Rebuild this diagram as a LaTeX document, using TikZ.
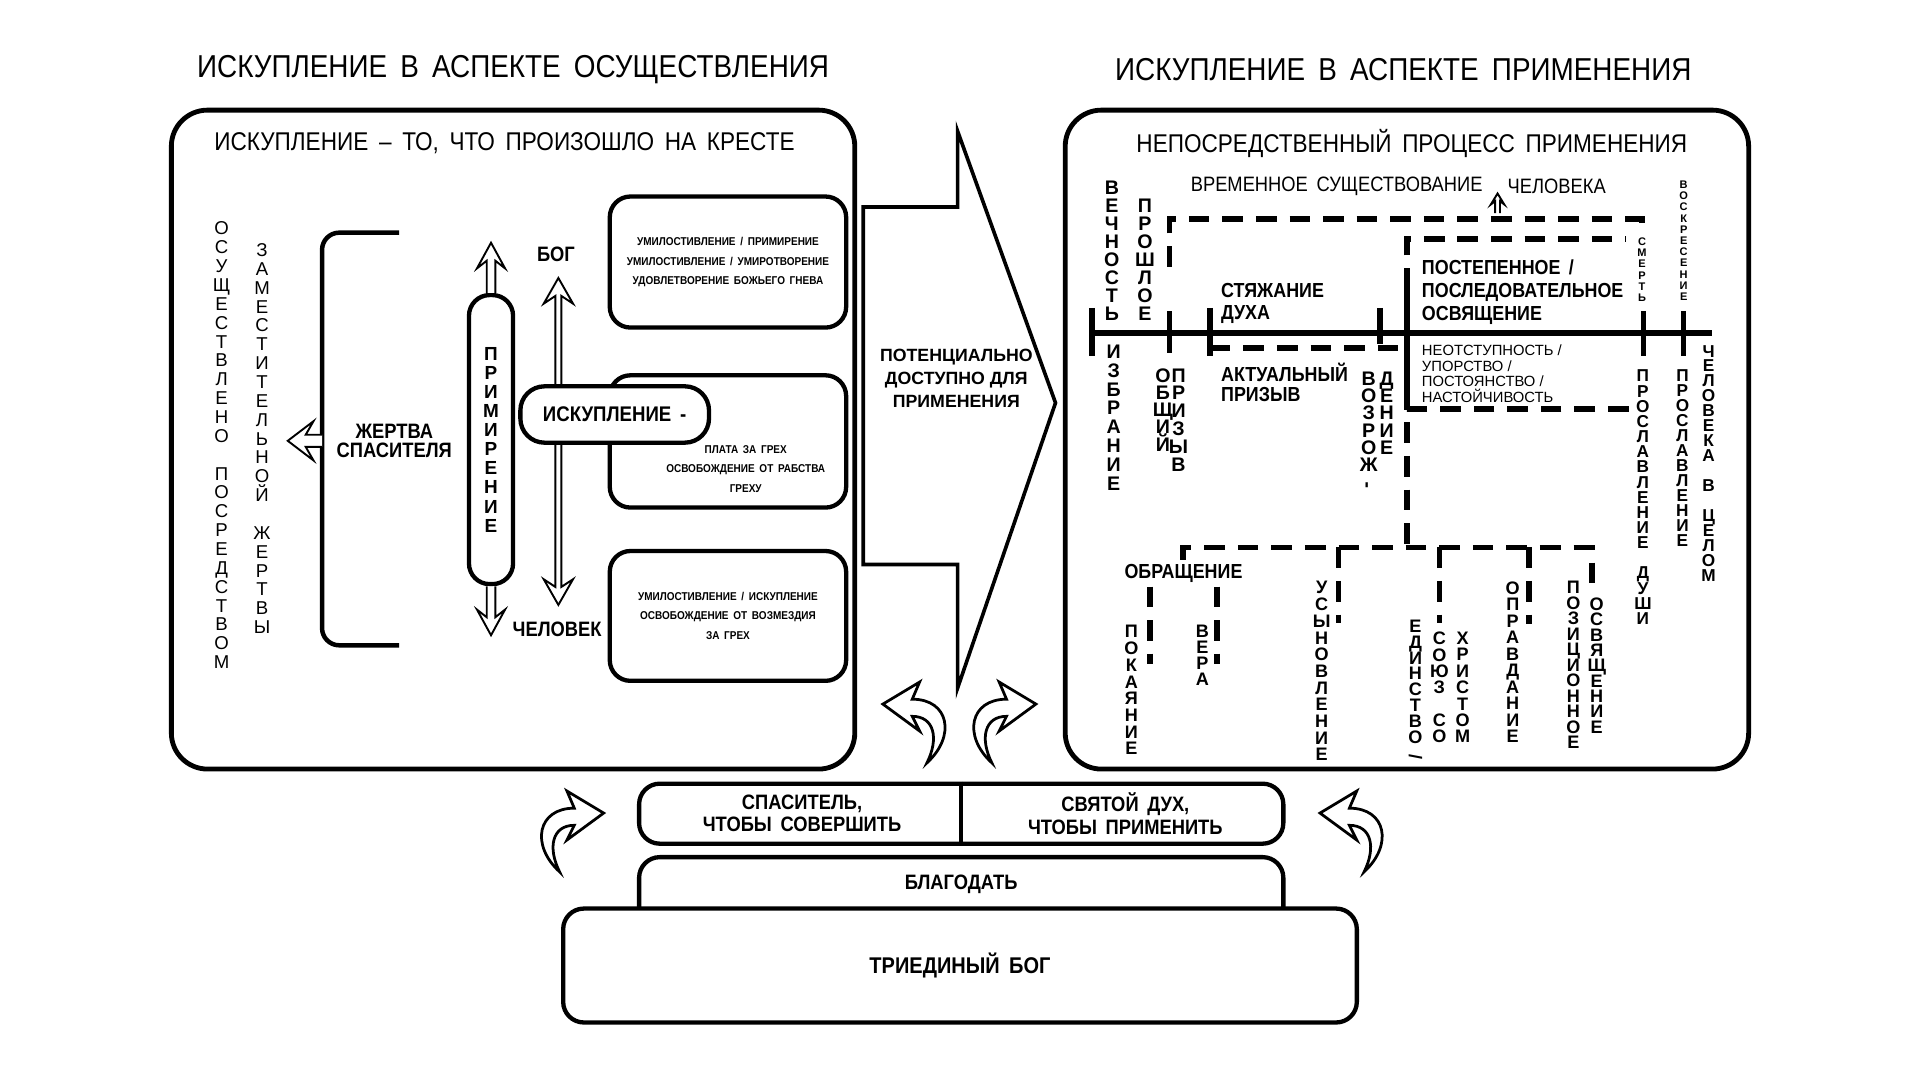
\documentclass[tikz,border=0pt]{standalone}
\usepackage{fontspec}
\setmainfont{Liberation Sans}
\newfontfamily\narrowfont[FakeStretch=0.88,WordSpace=1.7]{Liberation Sans}
\usetikzlibrary{positioning, arrows.meta}
\lineskiplimit=-100pt

% letters set one under the other
\ExplSyntaxOn
\NewDocumentCommand\vstack{m}{
  \seq_clear:N \l_tmpa_seq
  \tl_map_inline:nn {#1} { \seq_put_right:Nn \l_tmpa_seq {##1} }
  \seq_use:Nn \l_tmpa_seq {\\}
}
\ExplSyntaxOff

\tikzset{
  pics/uparr/.style n args={4}{code={
    \draw[line width=1.1pt, fill=white, line join=miter]
      (-#2,0) -- (-#2,{-#1+0.7*#4}) -- (-#3,{-#1+#4}) -- (0,-#1)
      -- (#3,{-#1+#4}) -- (#2,{-#1+0.7*#4}) -- (#2,0);
  }},
  pics/dblarr/.style n args={4}{code={
    \draw[line width=1.1pt, fill=white, line join=miter]
      (0,0) -- (-#3,-#4) -- (-#2,{-0.7*#4}) -- (-#2,{-#1+0.7*#4}) -- (-#3,{-#1+#4}) -- (0,-#1)
      -- (#3,{-#1+#4}) -- (#2,{-#1+0.7*#4}) -- (#2,{-0.7*#4}) -- (#3,-#4) -- cycle;
  }},
  pics/curvarr/.style={code={
    \draw[line width=1.6pt, fill=white, line join=miter]
      (0,0) .. controls (-24,-22) and (-18,-52) .. (12,-52) -- (6,-66) -- (36,-48)
      -- (6,-26) -- (12,-38) .. controls (-6,-38) and (-10,-20) .. cycle;
  }},
}

\begin{document}
\begin{tikzpicture}[x=0.025cm, y=-0.025cm,
    panel/.style={draw, line width=2.8pt, rounded corners=21pt, inner sep=0pt},
    sbox/.style={draw, line width=2.5pt, rounded corners=12pt, fill=white, minimum width=4.825cm, inner sep=0pt, align=center, font=\narrowfont\bfseries\fontsize{6.6}{11.4}\selectfont},
    title/.style={font=\narrowfont\fontsize{18.4}{20}\selectfont},
    subtitle/.style={font=\narrowfont\fontsize{14.9}{16}\selectfont},
    lbl/.style={font=\narrowfont\bfseries\fontsize{11.8}{#1}\selectfont, align=left, inner sep=0pt},
    rlbl/.style={font=\narrowfont\fontsize{12.1}{#1}\selectfont, align=left, inner sep=0pt},
    blbl/.style={font=\narrowfont\bfseries\fontsize{12.1}{#1}\selectfont, align=center, inner sep=0pt},
    vcol/.style 2 args={inner sep=0pt, align=center, anchor=north, font=\bfseries\fontsize{#1}{#2}\selectfont},
    vcolr/.style 2 args={inner sep=0pt, align=center, anchor=north, font=\fontsize{#1}{#2}\selectfont},
    tick/.style={line width=3.2pt},
    dsh/.style={line width=3.2pt, dash pattern=on 12pt off 7.5pt}]
  \path[fill=white] (0,0) rectangle (1568,882);
  \useasboundingbox (0,0) rectangle (1568,882);

  % headings
  \node[title] (tL) at (419,57) {ИСКУПЛЕНИЕ В АСПЕКТЕ ОСУЩЕСТВЛЕНИЯ};
  \node[title] (tR) at (1146,57) {ИСКУПЛЕНИЕ В АСПЕКТЕ ПРИМЕНЕНИЯ};

  % left panel
  \node[panel, minimum width=13.95cm, minimum height=13.45cm] (pL) at (419,359) {};
  \node[subtitle] (sL) at (412,117) {ИСКУПЛЕНИЕ – ТО, ЧТО ПРОИЗОШЛО НА КРЕСТЕ};
  \node[vcolr={10.8}{10.95}] (osush) at (181,181) {\vstack{ОСУЩЕСТВЛЕНО~ПОСРЕДСТВОМ}};
  \node[vcolr={10.8}{10.95}] (zamest) at (214,198.6) {\vstack{ЗАМЕСТИТЕЛЬНОЙ~ЖЕРТВЫ}};
  \draw[line width=2.6pt, rounded corners=10pt] (326,190) -- (263,190) -- (263,527) -- (326,527);
  \pic[rotate=90] at (263,360) {uparr={28}{5}{16}{21}};
  \node[blbl=11pt] (zhertva) at (322,360) {ЖЕРТВА\\СПАСИТЕЛЯ};
  \node[draw, line width=2.5pt, fill=white, rounded corners=12pt, minimum width=0.9cm, minimum height=5.9cm, inner sep=0pt, align=center, font=\bfseries\fontsize{11}{11.1}\selectfont] (prim) at (401,359) {\vstack{ПРИМИРЕНИЕ}};
  \pic at (prim.north) {uparr={41}{3.5}{11.5}{21}};
  \pic[rotate=180] at (prim.south) {uparr={40}{3.5}{11.5}{21}};
  \node[blbl=14pt] (bog) at (454,207.5) {БОГ};
  \node[blbl=14pt] (chel) at (455,514) {ЧЕЛОВЕК};
  \pic at (456,494) {dblarr={267}{2.5}{12}{21}};
  \node[sbox, minimum height=2.675cm] (b1) at (594.5,214) {УМИЛОСТИВЛЕНИЕ / ПРИМИРЕНИЕ\\УМИЛОСТИВЛЕНИЕ / УМИРОТВОРЕНИЕ\\УДОВЛЕТВОРЕНИЕ БОЖЬЕГО ГНЕВА};
  \node[sbox, minimum height=2.7cm] (b2) at (594.5,360.5) {};
  \node[align=center, inner sep=0pt, font=\narrowfont\bfseries\fontsize{6.6}{11.4}\selectfont] (b2t) at (609,383) {ПЛАТА ЗА ГРЕХ\\ОСВОБОЖДЕНИЕ ОТ РАБСТВА\\ГРЕХУ};
  \node[sbox, minimum height=2.65cm] (b3) at (594.5,503) {УМИЛОСТИВЛЕНИЕ / ИСКУПЛЕНИЕ\\ОСВОБОЖДЕНИЕ ОТ ВОЗМЕЗДИЯ\\ЗА ГРЕХ};
  \node[draw, line width=2.5pt, fill=white, rounded corners=14pt, minimum width=3.85cm, minimum height=1.15cm, font=\narrowfont\bfseries\fontsize{12.3}{14}\selectfont] (isk) at (502,338.5) {ИСКУПЛЕНИЕ -};

  % big arrow between the panels
  \draw[line width=2.1pt, line join=miter] (705,169) -- (782,169) -- (782,107) -- (862,329) -- (782,562) -- (782,461) -- (705,461) -- cycle;
  \node[align=center, font=\bfseries\fontsize{10.3}{13.5}\selectfont] (pot) at (781,309) {ПОТЕНЦИАЛЬНО\\ДОСТУПНО ДЛЯ\\ПРИМЕНЕНИЯ};

  % right panel
  \node[panel, minimum width=13.95cm, minimum height=13.45cm] (pR) at (1149,359) {};
  \node[subtitle] (sR) at (1153,117) {НЕПОСРЕДСТВЕННЫЙ ПРОЦЕСС ПРИМЕНЕНИЯ};
  \node[rlbl=14pt, anchor=east] (vrem) at (1211,152) {ВРЕМЕННОЕ СУЩЕСТВОВАНИЕ};
  \node[rlbl=14pt, anchor=west] (chelv) at (1231,152) {ЧЕЛОВЕКА};
  \pic at (1223,174) {uparr={16}{2}{5.5}{9}};
  \node[vcol={11.4}{10.45}] (vech) at (908,147.5) {\vstack{ВЕЧНОСТЬ}};
  \node[vcol={11.4}{10.4}] (prosh) at (935,162.5) {\vstack{ПРОШЛОЕ}};
  \node[vcol={6.4}{6.5}] (voskr) at (1375,147.5) {\vstack{ВОСКРЕСЕНИЕ}};
  \node[vcol={6.4}{6.5}] (smert) at (1341,194) {\vstack{СМЕРТЬ}};

  % time line
  \draw[tick] (891,272) -- (1398,272);
  \draw[tick] (892,251.5) -- (892,291);
  \draw[tick] (955,254) -- (955,288);
  \draw[tick] (988,251.5) -- (988,291);
  \draw[tick] (1127,251.5) -- (1127,281);
  \draw[tick] (1149,236) -- (1149,334);
  \draw[tick] (1342,254) -- (1342,291);
  \draw[tick] (1375,254) -- (1375,291);
  \draw[dsh] (955,218) -- (955,179) -- (1341,179) -- (1341,188);
  \draw[dsh] (1149,236) -- (1149,195) -- (1328,195);
  \draw[dsh] (988,284) -- (1149,284);
  \draw[dsh] (1330,334) -- (1149,334) -- (1149,447);

  \node[lbl=12.8pt, anchor=west] (styazh) at (997,248) {СТЯЖАНИЕ\\ДУХА};
  \node[lbl=13.2pt, anchor=west] (postep) at (1161,238.5) {ПОСТЕПЕННОЕ /\\ПОСЛЕДОВАТЕЛЬНОЕ\\ОСВЯЩЕНИЕ};
  \node[anchor=west, align=left, inner sep=0pt, font=\fontsize{8.6}{9}\selectfont] (neotst) at (1161,305) {НЕОТСТУПНОСТЬ /\\УПОРСТВО /\\ПОСТОЯНСТВО /\\НАСТОЙЧИВОСТЬ};
  \node[lbl=11.7pt, anchor=west] (aktual) at (997,312) {АКТУАЛЬНЫЙ\\ПРИЗЫВ};
  \node[vcol={11.4}{10.9}] (izbr) at (909.5,281.6) {\vstack{ИЗБРАНИЕ}};
  \node[vcol={11.4}{10}] (obshch) at (949.7,300.7) {\vstack{ОБЩИЙ}};
  \node[vcol={11.4}{10.4}] (prizyv) at (962.5,300.7) {\vstack{ПРИЗЫВ}};
  \node[vcol={11.4}{10}] (vozr) at (1117.8,303.5) {\vstack{ВОЗРОЖ{\rotatebox{90}{-}}}};
  \node[vcol={11.4}{10}] (denie) at (1132.4,303.5) {\vstack{ДЕНИЕ}};
  \node[vcol={10}{8.8}] (proslD) at (1341.7,302) {\vstack{ПРОСЛАВЛЕНИЕ~ДУШИ}};
  \node[vcol={10}{8.7}] (proslC) at (1374,302) {\vstack{ПРОСЛАВЛЕНИЕ}};
  \node[vcol={10}{8.7}] (chelC) at (1395.4,281.6) {\vstack{ЧЕЛОВЕКА~В~ЦЕЛОМ}};

  % tree under the sanctification
  \draw[dsh] (966,457) -- (966,447) -- (1300,447) -- (1300,484);
  \draw[dsh] (1093,447) -- (1093,509);
  \draw[dsh] (1175.5,447) -- (1175.5,509);
  \draw[dsh] (1248.5,447) -- (1248.5,510);
  \node[lbl=14pt] (obr) at (966.5,468) {ОБРАЩЕНИЕ};
  \draw[dsh] (939,479) -- (939,542);
  \draw[dsh] (994,479) -- (994,542);
  \node[vcol={10.5}{9.7}] (pokay) at (924,510.5) {\vstack{ПОКАЯНИЕ}};
  \node[vcol={10.5}{9.3}] (vera) at (982,510.5) {\vstack{ВЕРА}};
  \node[vcol={10.5}{9.7}] (usyn) at (1079.4,474.6) {\vstack{УСЫНОВЛЕНИЕ}};
  \node[vcol={10.5}{9.2}] (edin) at (1156,506) {\vstack{ЕДИНСТВО{\rotatebox{90}{/}}}};
  \node[vcol={10.5}{9.5}] (soyuz) at (1175.5,516) {\vstack{СОЮЗ~СО}};
  \node[vcol={10.5}{9.5}] (khrist) at (1194.5,516) {\vstack{ХРИСТОМ}};
  \node[vcol={10.5}{9.6}] (oprav) at (1235.4,474.6) {\vstack{ОПРАВДАНИЕ}};
  \node[vcol={10.5}{9}] (pozic) at (1285,474.6) {\vstack{ПОЗИЦИОННОЕ}};
  \node[vcol={10.5}{8.9}] (osvyashch) at (1304,488) {\vstack{ОСВЯЩЕНИЕ}};

  % curved arrows
  \pic[xscale=-1] at (757,623) {curvarr};
  \pic at (810,623) {curvarr};
  \pic at (457,712) {curvarr};
  \pic[xscale=-1] at (1114,712) {curvarr};

  % foundation
  \node[draw, line width=2.5pt, rounded corners=12pt, minimum width=13.15cm, minimum height=1.5cm, inner sep=0pt] (blag) at (785,730) {};
  \node[blbl=14pt] (blagt) at (785,722) {БЛАГОДАТЬ};
  \node[draw, line width=2.5pt, fill=white, rounded corners=12pt, minimum width=16.2cm, minimum height=2.325cm, font=\narrowfont\bfseries\fontsize{13.2}{14}\selectfont] (trin) at (784,788.5) {ТРИЕДИНЫЙ БОГ};
  \node[draw, line width=2.5pt, rounded corners=12pt, minimum width=13.15cm, minimum height=1.225cm, inner sep=0pt] (savbox) at (785,664.5) {};
  \draw[line width=2.5pt] (savbox.north) -- (savbox.south);
  \node[blbl=12.8pt] (sav1) at (655,664.5) {СПАСИТЕЛЬ,\\ЧТОБЫ СОВЕРШИТЬ};
  \node[blbl=12.8pt] (sav2) at (919,664.5) {СВЯТОЙ ДУХ,\\ЧТОБЫ ПРИМЕНИТЬ};
\end{tikzpicture}
\end{document}
